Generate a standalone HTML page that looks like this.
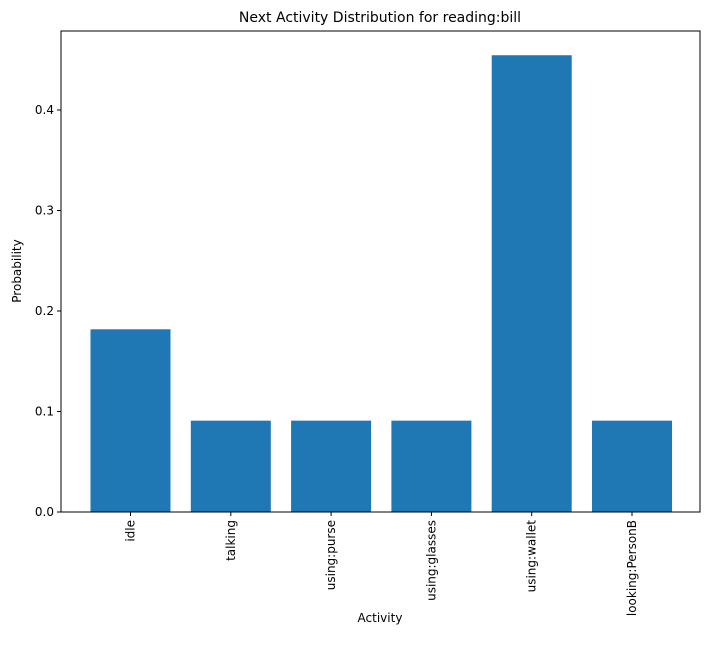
<!DOCTYPE html>
<html><head><meta charset="utf-8"><style>
body{margin:0;background:#fff;font-family:"Liberation Sans","DejaVu Sans",sans-serif;}
svg text{font-family:"DejaVu Sans","Liberation Sans",sans-serif;fill:#000;}
</style></head><body>
<svg id="chart" width="714" height="663" xmlns="http://www.w3.org/2000/svg">
<rect x="0" y="0" width="714" height="663" fill="#fff"/>
<text x="380" y="22" text-anchor="middle" font-size="14">Next Activity Distribution for reading:bill</text>
<text transform="translate(21,271) rotate(-90)" text-anchor="middle" font-size="12">Probability</text>
<text x="380" y="622" text-anchor="middle" font-size="12">Activity</text>
<g id="bars"></g><g id="ticks"></g>
<rect x="61" y="31" width="639" height="481" fill="none" stroke="#000" stroke-width="1"/>
</svg>
<script>
const categories=["idle","talking","using:purse","using:glasses","using:wallet","looking:PersonB"];
const values=[0.1818,0.0909,0.0909,0.0909,0.4545,0.0909];
const yTicks=[0,0.1,0.2,0.3,0.4];
const yTickLabels=["0.0","0.1","0.2","0.3","0.4"];
const NS="http://www.w3.org/2000/svg";
const y=v=>512-v*1005;
const x=i=>130.5+i*100.3;
const bars=document.getElementById('bars'),ticks=document.getElementById('ticks');
function mk(t,a,p){const e=document.createElementNS(NS,t);for(const k in a)e.setAttribute(k,a[k]);p.appendChild(e);return e;}
values.forEach((v,i)=>{
 const r=mk('rect',{x:x(i)-40,y:y(v),width:80,height:512-y(v),fill:'#1f77b4'},bars);
 
 
 const l=mk('line',{x1:x(i),x2:x(i),y1:512,y2:516,stroke:'#000'},ticks);
 
 
 const t=mk('text',{transform:`translate(${x(i)+4},520) rotate(-90)`,'text-anchor':'end','font-size':12},ticks);
 t.textContent=categories[i];
 
 
});
yTicks.forEach((v,i)=>{
 const l=mk('line',{x1:57,x2:61,y1:y(v),y2:y(v),stroke:'#000'},ticks);
 
 
 const t=mk('text',{x:54,y:y(v)+4,'text-anchor':'end','font-size':12},ticks);
 t.textContent=yTickLabels[i];
 
 
});
</script>
</body></html>
